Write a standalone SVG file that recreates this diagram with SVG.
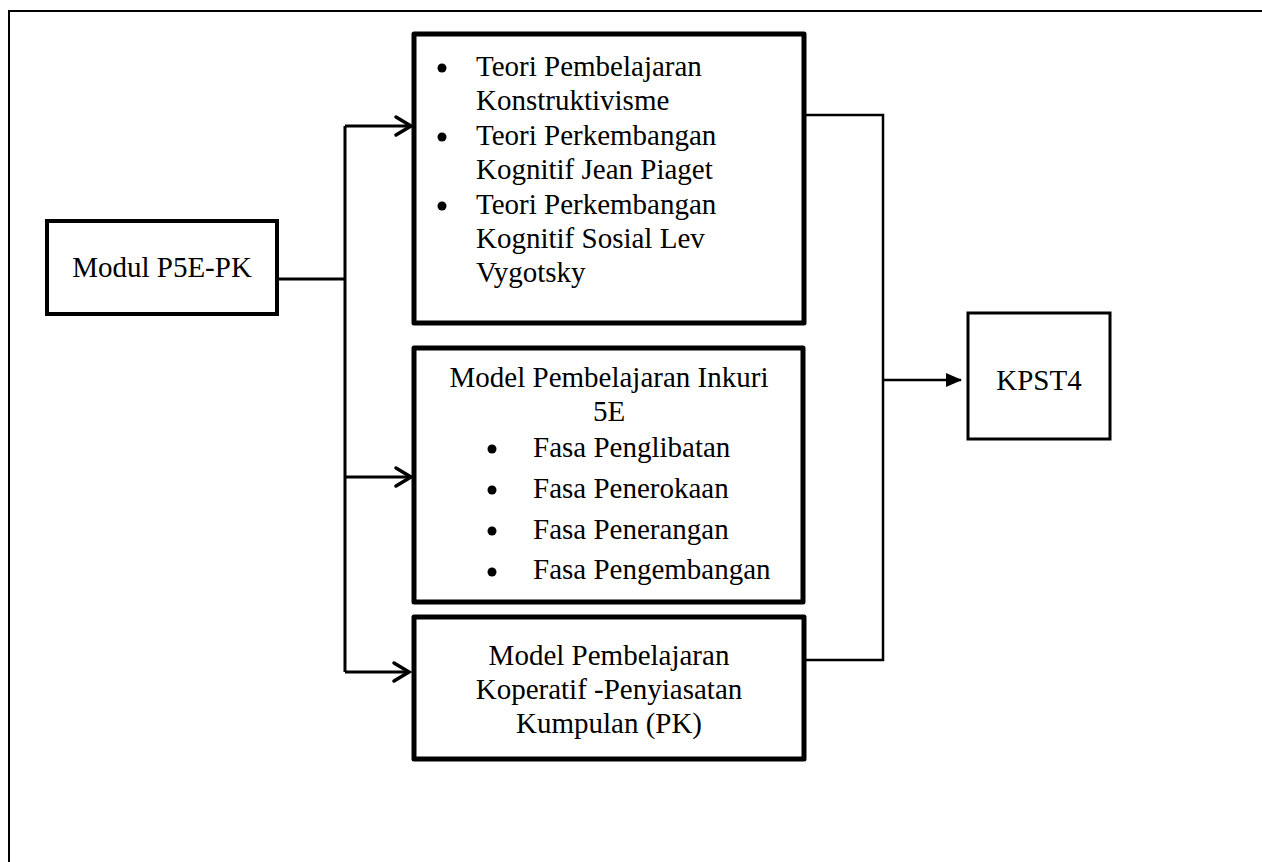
<svg xmlns="http://www.w3.org/2000/svg" width="1262" height="862" viewBox="0 0 1262 862">
<style>
  text { font-family: "Liberation Serif", "Times New Roman", serif; font-size: 29px; fill: #000; }
  .c { text-anchor: middle; }
  .box { fill: #fff; stroke: #000; stroke-width: 5; stroke-linejoin: round; }
  .boxm { fill: #fff; stroke: #000; stroke-width: 4; }
  .boxk { fill: #fff; stroke: #000; stroke-width: 3; }
  .ln { fill: none; stroke: #000; stroke-width: 3; }
  .ln2 { fill: none; stroke: #000; stroke-width: 2.5; }
  .chev { fill: none; stroke: #000; stroke-width: 3.5; stroke-linecap: round; stroke-linejoin: miter; }
  .dot { fill: #000; }
</style>
<defs>
  <marker id="tri" markerWidth="16" markerHeight="14" refX="15" refY="7" orient="auto" markerUnits="userSpaceOnUse">
    <path d="M0,0 L16,7 L0,14 Z" fill="#000"/>
  </marker>
</defs>
<rect width="1262" height="862" fill="#fff"/>
<g id="frame">
  <path d="M9,862 V11 H1262" fill="none" stroke="#000" stroke-width="2"/>
</g>
<g id="connectors">
  <path class="ln" d="M277,279 H345"/>
  <path class="ln" d="M345,126 V672"/>
  <path class="ln" d="M345,126 H411"/>
  <path class="chev" d="M396,117 L411,126 L396,135"/>
  <path class="ln" d="M345,477 H411"/>
  <path class="chev" d="M396,468 L411,477 L396,486"/>
  <path class="ln" d="M345,672 H409"/>
  <path class="chev" d="M394,663 L409,672 L394,681"/>
  <path class="ln2" d="M806,115 H883 V660 H806"/>
  <path class="ln2" d="M883,380 H961" marker-end="url(#tri)"/>
</g>
<g id="node-modul">
  <rect class="boxm" x="47" y="221" width="230" height="93"/>
  <text class="c" x="162" y="277">Modul P5E-PK</text>
</g>
<g id="node-teori">
  <rect class="box" x="414" y="34" width="390" height="289"/>
  <circle class="dot" cx="442" cy="68" r="4.5"/><text x="476" y="76">Teori Pembelajaran</text>
  <text x="476" y="110">Konstruktivisme</text>
  <circle class="dot" cx="442" cy="137" r="4.5"/><text x="476" y="145">Teori Perkembangan</text>
  <text x="476" y="179">Kognitif Jean Piaget</text>
  <circle class="dot" cx="442" cy="206" r="4.5"/><text x="476" y="214">Teori Perkembangan</text>
  <text x="476" y="248">Kognitif Sosial Lev</text>
  <text x="476" y="282">Vygotsky</text>
</g>
<g id="node-inkuri">
  <rect class="box" x="414" y="348" width="389" height="254"/>
  <text class="c" x="609" y="387">Model Pembelajaran Inkuri</text>
  <text class="c" x="609" y="421">5E</text>
  <circle class="dot" cx="492" cy="449" r="4.5"/><text x="533" y="457">Fasa Penglibatan</text>
  <circle class="dot" cx="492" cy="490" r="4.5"/><text x="533" y="498">Fasa Penerokaan</text>
  <circle class="dot" cx="492" cy="531" r="4.5"/><text x="533" y="539">Fasa Penerangan</text>
  <circle class="dot" cx="492" cy="572" r="4.5"/><text x="533" y="579">Fasa Pengembangan</text>
</g>
<g id="node-koperatif">
  <rect class="box" x="414" y="617" width="390" height="142"/>
  <text class="c" x="609" y="665">Model Pembelajaran</text>
  <text class="c" x="609" y="699">Koperatif -Penyiasatan</text>
  <text class="c" x="609" y="733">Kumpulan (PK)</text>
</g>
<g id="node-kpst4">
  <rect class="boxk" x="968" y="313" width="142" height="126"/>
  <text class="c" x="1039" y="390">KPST4</text>
</g>
</svg>
